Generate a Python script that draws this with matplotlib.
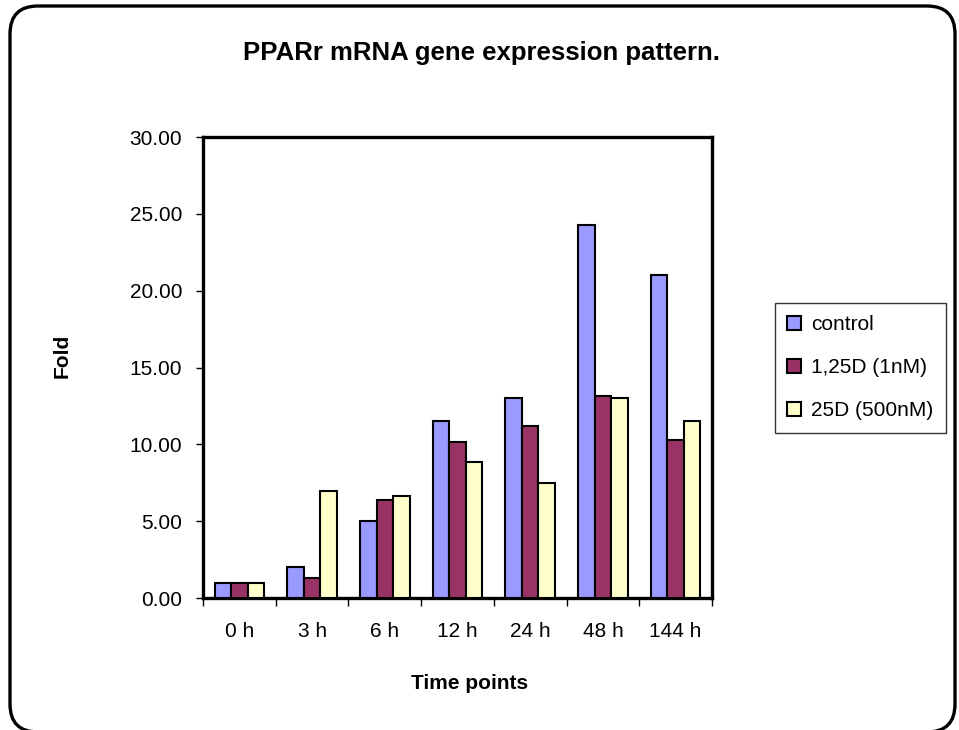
import matplotlib.pyplot as plt
from matplotlib.patches import FancyBboxPatch
from matplotlib.transforms import IdentityTransform
import numpy as np

plt.rcParams['font.family'] = ['Liberation Sans', 'DejaVu Sans']

# --- data ---
time_points = ["0 h", "3 h", "6 h", "12 h", "24 h", "48 h", "144 h"]
control = [1.0, 2.05, 5.0, 11.5, 13.0, 24.25, 21.0]
d125_1nM = [1.0, 1.3, 6.35, 10.15, 11.2, 13.15, 10.3]
d25_500nM = [1.0, 6.95, 6.65, 8.85, 7.5, 13.0, 11.5]

series = [
    ("control", control, "#9999FF"),
    ("1,25D (1nM)", d125_1nM, "#993366"),
    ("25D (500nM)", d25_500nM, "#FFFFCC"),
]

fig = plt.figure(figsize=(9.59, 7.30), dpi=100)

# rounded outer frame (pixels)
frame = FancyBboxPatch((10, -2), 945, 726, boxstyle="round,pad=0,rounding_size=28",
                       transform=IdentityTransform(), facecolor="none",
                       edgecolor="black", linewidth=2.4, figure=fig)
fig.patches.append(frame)

ax = fig.add_axes([0.2117, 0.1808, 0.5307, 0.6315])

x = np.arange(len(time_points)) + 0.5
w = 0.227
for i, (name, vals, col) in enumerate(series):
    ax.bar(x + (i - 1) * w, vals, width=w, color=col, edgecolor="black",
           linewidth=1.5, label=name, zorder=3)

ax.set_xlim(0, len(time_points))
ax.set_ylim(0, 30)
ax.set_yticks(np.arange(0, 30.1, 5))
ax.set_yticklabels([f"{v:.2f}" for v in np.arange(0, 30.1, 5)])
ax.set_xticks(np.arange(len(time_points) + 1))
ax.set_xticklabels([])
ax.set_xticks(x, minor=True)
ax.set_xticklabels(time_points, minor=True)
ax.tick_params(axis="x", which="minor", length=0, pad=17, labelsize=15)
ax.tick_params(axis="x", which="major", direction="out", length=6, width=1)
ax.tick_params(axis="y", direction="out", length=5, width=1, pad=10, labelsize=15)

for s in ax.spines.values():
    s.set_linewidth(2.4)

fig.text(0.502, 0.928, "PPARr mRNA gene expression pattern.", ha="center", va="center",
         fontsize=18.5, fontweight="bold")
fig.text(0.065, 0.513, "Fold", rotation=90, ha="center", va="center",
         fontsize=15, fontweight="bold")
fig.text(0.49, 0.064, "Time points", ha="center", va="center",
         fontsize=15, fontweight="bold")

leg = ax.legend(loc="upper left", bbox_to_anchor=(0.808, 0.585),
                bbox_transform=fig.transFigure, fancybox=False, frameon=True,
                edgecolor="black", fontsize=15, handlelength=0.65, handleheight=0.65,
                handletextpad=0.5, labelspacing=1.15, borderpad=0.6, borderaxespad=0)
leg.get_frame().set_linewidth(1.0)

fig.savefig("out.png", dpi=100)
